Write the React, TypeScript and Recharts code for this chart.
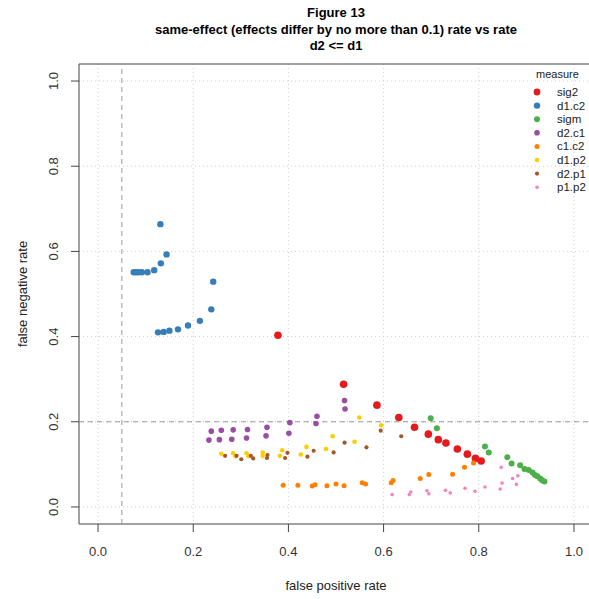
import React from "react";
import {
  ScatterChart,
  Scatter,
  XAxis,
  YAxis,
  CartesianGrid,
  ReferenceLine,
  ReferenceArea,
} from "recharts";

// [false positive rate, false negative rate] per measure
const sig2: [number, number][] = [
  [0.378, 0.403], [0.516, 0.288], [0.586, 0.239], [0.632, 0.21],
  [0.665, 0.187], [0.694, 0.171], [0.715, 0.158], [0.731, 0.15],
  [0.755, 0.136], [0.776, 0.124], [0.793, 0.114], [0.805, 0.108],
];
const d1c2: [number, number][] = [
  [0.075, 0.551], [0.08, 0.551], [0.085, 0.551], [0.092, 0.551],
  [0.104, 0.551], [0.118, 0.556], [0.132, 0.572], [0.144, 0.593],
  [0.131, 0.664], [0.126, 0.41], [0.138, 0.411], [0.15, 0.414],
  [0.168, 0.417], [0.189, 0.426], [0.214, 0.437], [0.238, 0.464],
  [0.242, 0.529],
];
const sigm: [number, number][] = [
  [0.699, 0.208], [0.712, 0.185], [0.813, 0.142], [0.821, 0.128],
  [0.86, 0.117], [0.869, 0.102], [0.887, 0.098], [0.896, 0.089],
  [0.905, 0.087], [0.913, 0.081], [0.918, 0.075], [0.923, 0.072],
  [0.929, 0.067], [0.933, 0.063], [0.938, 0.06],
];
const d2c1: [number, number][] = [
  [0.518, 0.25], [0.519, 0.23], [0.46, 0.213], [0.458, 0.196],
  [0.403, 0.198], [0.401, 0.173], [0.355, 0.187], [0.353, 0.167],
  [0.314, 0.182], [0.312, 0.162], [0.284, 0.181], [0.281, 0.159],
  [0.259, 0.18], [0.255, 0.158], [0.238, 0.178], [0.233, 0.157],
];
const c1c2: [number, number][] = [
  [0.389, 0.051], [0.42, 0.051], [0.45, 0.049], [0.456, 0.052],
  [0.481, 0.05], [0.5, 0.054], [0.517, 0.05], [0.555, 0.057],
  [0.562, 0.054], [0.616, 0.057], [0.62, 0.062], [0.677, 0.067],
  [0.695, 0.076], [0.745, 0.077], [0.77, 0.093], [0.789, 0.103],
];
const d1p2: [number, number][] = [
  [0.549, 0.21], [0.493, 0.166], [0.539, 0.153], [0.479, 0.136],
  [0.438, 0.141], [0.426, 0.123], [0.387, 0.133], [0.382, 0.12],
  [0.346, 0.128], [0.346, 0.12], [0.312, 0.126], [0.316, 0.119],
  [0.284, 0.126], [0.289, 0.119], [0.259, 0.125], [0.595, 0.192],
];
const d2p1: [number, number][] = [
  [0.564, 0.14], [0.518, 0.151], [0.495, 0.128], [0.453, 0.132],
  [0.44, 0.118], [0.398, 0.127], [0.393, 0.115], [0.356, 0.122],
  [0.355, 0.115], [0.326, 0.114], [0.321, 0.12], [0.301, 0.112],
  [0.291, 0.12], [0.267, 0.12], [0.594, 0.179], [0.637, 0.166],
];
const p1p2: [number, number][] = [
  [0.618, 0.029], [0.654, 0.029], [0.657, 0.035], [0.691, 0.038],
  [0.695, 0.031], [0.73, 0.039], [0.74, 0.033], [0.771, 0.044],
  [0.792, 0.037], [0.813, 0.047], [0.845, 0.042], [0.849, 0.056],
  [0.847, 0.093], [0.871, 0.067], [0.882, 0.073], [0.879, 0.053],
];

const measures = [
  { name: "sig2", points: sig2, color: "#E41A1C", r: 3.8 },
  { name: "d1.c2", points: d1c2, color: "#377EB8", r: 3.2 },
  { name: "sigm", points: sigm, color: "#4DAF4A", r: 3.0 },
  { name: "d2.c1", points: d2c1, color: "#984EA3", r: 2.8 },
  { name: "c1.c2", points: c1c2, color: "#FF7F00", r: 2.5 },
  { name: "d1.p2", points: d1p2, color: "#FFCC00", r: 2.3 },
  { name: "d2.p1", points: d2p1, color: "#A65628", r: 2.1 },
  { name: "p1.p2", points: p1p2, color: "#F781BF", r: 1.8 },
];

const axisTicks = [0, 0.2, 0.4, 0.6, 0.8, 1.0];
const FONT = '"Liberation Sans", Arial, Helvetica, sans-serif';

const YTick = (props: any) => {
  const { x, y, payload } = props;
  return (
    <text
      x={x}
      y={y}
      transform={`rotate(-90, ${x}, ${y})`}
      textAnchor="middle"
      fontSize={13}
      fontFamily={FONT}
      fill="#333"
    >
      {payload.value.toFixed(1)}
    </text>
  );
};

export default function App() {
  return (
    <div
      style={{
        position: "absolute",
        left: 0,
        top: 0,
        width: 589,
        height: 599,
        overflow: "hidden",
        background: "#fff",
        fontFamily: FONT,
      }}
    >
      <ScatterChart
        width={600}
        height={599}
        margin={{ top: 64, right: 7, bottom: 35, left: 39 }}
      >
        <CartesianGrid
          strokeDasharray="1 3"
          stroke="#cfcfcf"
          verticalValues={axisTicks}
          horizontalValues={axisTicks}
        />
        <XAxis
          type="number"
          dataKey="x"
          domain={[-0.04, 1.04]}
          ticks={axisTicks}
          allowDataOverflow
          height={40}
          axisLine={false}
          tickSize={8}
          tickMargin={15}
          tickLine={{ stroke: "#444" }}
          tick={{ fontSize: 13, fill: "#333", fontFamily: FONT }}
          tickFormatter={(v: number) => v.toFixed(1)}
        />
        <YAxis
          type="number"
          dataKey="y"
          domain={[-0.04, 1.04]}
          ticks={axisTicks}
          allowDataOverflow
          width={40}
          axisLine={false}
          tickSize={8}
          tickMargin={13}
          tickLine={{ stroke: "#444" }}
          tick={<YTick />}
        />
        <ReferenceLine x={0.05} stroke="#999" strokeDasharray="5 4" />
        <ReferenceLine y={0.2} stroke="#999" strokeDasharray="5 4" />
        {measures.map((m) => (
          <Scatter
            key={m.name}
            name={m.name}
            data={m.points.map(([x, y]) => ({ x, y }))}
            fill={m.color}
            isAnimationActive={false}
            shape={(p: any) => (
              <circle cx={p.cx} cy={p.cy} r={m.r} fill={m.color} />
            )}
          />
        ))}
        <ReferenceArea
          x1={-0.04}
          x2={1.04}
          y1={-0.04}
          y2={1.04}
          fill="none"
          fillOpacity={0}
          stroke="#444"
          strokeWidth={1}
          ifOverflow="visible"
        />
      </ScatterChart>

      <svg
        width={589}
        height={599}
        style={{ position: "absolute", left: 0, top: 0, pointerEvents: "none" }}
        fontFamily={FONT}
      >
        <g textAnchor="middle" fontWeight="bold" fontSize={13} fill="#000">
          <text x={336} y={17}>Figure 13</text>
          <text x={336} y={34}>
            same-effect (effects differ by no more than 0.1) rate vs rate
          </text>
          <text x={336} y={50}>d2 &lt;= d1</text>
        </g>
        <text x={336} y={590} textAnchor="middle" fontSize={13} fill="#222">
          false positive rate
        </text>
        <text
          x={27}
          y={294}
          textAnchor="middle"
          fontSize={13}
          fill="#222"
          transform="rotate(-90, 27, 294)"
        >
          false negative rate
        </text>
        <text x={536} y={78} fontSize={11} fill="#222">
          measure
        </text>
        {measures.map((m, i) => (
          <g key={m.name}>
            <circle cx={537} cy={92 + i * 13.6} r={Math.min(m.r, 3.4)} fill={m.color} />
            <text x={557} y={96 + i * 13.6} fontSize={11.5} fill="#222">
              {m.name}
            </text>
          </g>
        ))}
      </svg>
    </div>
  );
}
